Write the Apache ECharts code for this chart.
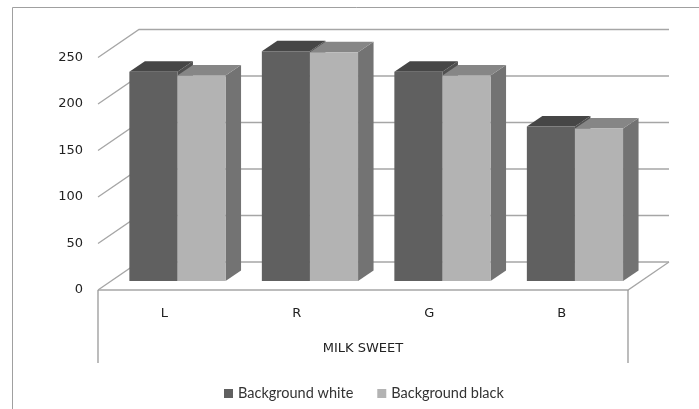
<!DOCTYPE html>
<html><head><meta charset="utf-8">
<script src="https://cdn.jsdelivr.net/npm/echarts@6/dist/echarts.min.js"></script>
<style>html,body{margin:0;padding:0;background:#fff}#c{width:699px;height:409px}</style>
</head><body><div id="c"></div>
<script>
const categories = ['L', 'R', 'G', 'B'];
const groupName = 'MILK SWEET';
const seriesNames = ['Background white', 'Background black'];
const whiteValues = [225, 247, 225, 166];
const blackValues = [221, 246, 221, 164];
const yTicks = [0, 50, 100, 150, 200, 250];

const DEPTH = [41, -28];      // full floor depth offset (px)
const BAR_OFF = [13.2, -9];   // bar front face offset from front plane
const BAR_D = [15.5, -10.5];  // bar thickness
const BAR_FRAC = 0.363;
const LINE = '#a6a6a6';

const palettes = [
  { front: '#606060', top: '#464646', side: '#505050' },
  { front: '#b3b3b3', top: '#868686', side: '#737373' }
];

function renderWalls(params, api) {
  const cs = params.coordSys;
  const left = cs.x, right = cs.x + cs.width, bottom = cs.y + cs.height;
  const children = [];
  yTicks.forEach(v => {
    const y = api.coord([0, v])[1];
    children.push({ type: 'polyline', shape: { points: [[left, y], [left + DEPTH[0], y + DEPTH[1]], [right + DEPTH[0], y + DEPTH[1]]] },
      style: { stroke: LINE, lineWidth: 1.3, fill: null } });
  });
  children.push({ type: 'polyline', shape: { points: [[left, bottom], [right, bottom], [right + DEPTH[0], bottom + DEPTH[1]]] },
    style: { stroke: LINE, lineWidth: 1.3, fill: null } });
  children.push({ type: 'line', shape: { x1: left, y1: bottom, x2: left, y2: bottom + 73 }, style: { stroke: '#999', lineWidth: 1.3 } });
  children.push({ type: 'line', shape: { x1: right, y1: bottom, x2: right, y2: bottom + 73 }, style: { stroke: '#999', lineWidth: 1.3 } });
  return { type: 'group', children };
}

function renderBar(si) {
  return function (params, api) {
    const idx = api.value(0), v = api.value(1);
    const band = api.size([1, 0])[0];
    const w = band * BAR_FRAC;
    const c = api.coord([idx, 0]);
    const t = api.coord([idx, v]);
    const x0 = c[0] + (si === 0 ? -w : 0) + BAR_OFF[0];
    const x1 = x0 + w;
    const yb = c[1] + BAR_OFF[1];
    const yt = t[1] + BAR_OFF[1];
    const dx = BAR_D[0], dy = BAR_D[1];
    const p = palettes[si];
    return { type: 'group', children: [
      { type: 'polygon', shape: { points: [[x1, yb], [x1 + dx, yb + dy], [x1 + dx, yt + dy], [x1, yt]] }, style: { fill: p.side } },
      { type: 'polygon', shape: { points: [[x0, yt], [x1, yt], [x1 + dx, yt + dy], [x0 + dx, yt + dy]] }, style: { fill: p.top } },
      { type: 'rect', shape: { x: x0, y: yt, width: w, height: yb - yt }, style: { fill: p.front } }
    ] };
  };
}

const chart = echarts.init(document.getElementById('c'), null, { renderer: 'canvas' });
const axisFont = { fontFamily: 'DejaVu Sans', fontSize: 13, color: '#222' };
chart.setOption({
  animation: false,
  backgroundColor: '#fff',
  graphic: [{ type: 'rect', shape: { x: 12.5, y: 7.5, width: 700, height: 410 }, style: { fill: null, stroke: '#a0a0a0', lineWidth: 1 }, z: -10 }],
  grid: { left: 98, right: 71, top: 57.5, bottom: 119 },
  legend: {
    data: seriesNames, left: 219, top: 381, itemWidth: 9, itemHeight: 9, itemGap: 24, icon: 'rect',
    textStyle: { fontFamily: 'Lato', fontSize: 14.5, color: '#333' }
  },
  xAxis: {
    type: 'category', data: categories,
    axisLine: { show: false }, axisTick: { show: false },
    axisLabel: Object.assign({ margin: 17 }, axisFont),
    name: groupName, nameLocation: 'middle', nameGap: 52, nameTextStyle: axisFont
  },
  yAxis: {
    type: 'value', min: 0, max: 250, interval: 50,
    axisLine: { show: false }, axisTick: { show: false }, splitLine: { show: false },
    axisLabel: Object.assign({ margin: 15 }, axisFont)
  },
  series: [
    { type: 'custom', name: '_walls', renderItem: renderWalls, data: [[0, 0]], clip: false, silent: true, z: 1 },
    { type: 'custom', name: seriesNames[0], renderItem: renderBar(0), itemStyle: { color: palettes[0].front },
      data: whiteValues.map((v, i) => [i, v]), clip: false, z: 2 },
    { type: 'custom', name: seriesNames[1], renderItem: renderBar(1), itemStyle: { color: palettes[1].front },
      data: blackValues.map((v, i) => [i, v]), clip: false, z: 2 }
  ]
});
</script>
</body></html>
